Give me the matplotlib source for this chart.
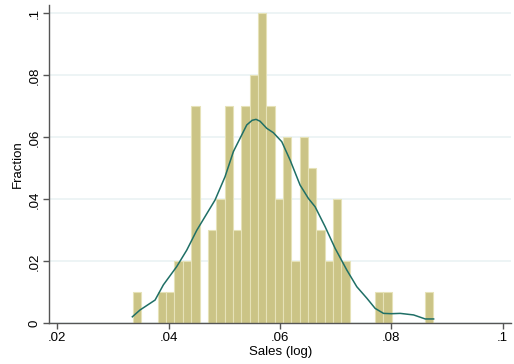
import numpy as np
import matplotlib.pyplot as plt

plt.rcParams['font.family'] = ['Liberation Sans', 'DejaVu Sans']

# histogram: bin edges start / width and fraction per bin
bin_start = 0.03355
bin_width = 0.0015
fractions = [0.01, 0, 0, 0.01, 0.01, 0.02, 0.02, 0.07, 0, 0.03,
             0.04, 0.07, 0.03, 0.07, 0.08, 0.10, 0.07, 0.04, 0.06, 0.02,
             0.06, 0.05, 0.03, 0.02, 0.04, 0.02, 0, 0, 0, 0.01,
             0.01, 0, 0, 0, 0, 0.01]

# kernel density curve (scaled to fraction)
kd_x = [0.03348, 0.03486, 0.03756, 0.03905, 0.04145, 0.04325, 0.04505,
        0.04834, 0.05013, 0.05163, 0.05283, 0.05403, 0.0550, 0.0557,
        0.05642, 0.05763, 0.05881, 0.06032, 0.06181, 0.06361, 0.0651,
        0.06631, 0.0681, 0.0699, 0.072, 0.0738, 0.0756, 0.0771, 0.0786,
        0.0800, 0.0816, 0.0840, 0.0861, 0.0876]
kd_y = [0.0021, 0.0043, 0.0075, 0.0124, 0.0183, 0.0236, 0.0300,
        0.0398, 0.0473, 0.0554, 0.0597, 0.0640, 0.0655, 0.0658,
        0.0652, 0.0629, 0.0615, 0.0586, 0.0527, 0.0446, 0.0403,
        0.0376, 0.0312, 0.0242, 0.0172, 0.0118, 0.0081, 0.0048, 0.0032,
        0.0031, 0.0032, 0.0027, 0.0014, 0.0014]

xticks = [0.02, 0.04, 0.06, 0.08, 0.1]
xtick_labels = ['.02', '.04', '.06', '.08', '.1']
yticks = [0, 0.02, 0.04, 0.06, 0.08, 0.1]
ytick_labels = ['0', '.02', '.04', '.06', '.08', '.1']

fig = plt.figure(figsize=(5.14, 3.64), dpi=100)
ax = fig.add_axes([49.3 / 514, 1 - 323.3 / 364, (511 - 49.3) / 514, (323.3 - 5) / 364])

lefts = bin_start + bin_width * np.arange(len(fractions))
ax.bar(lefts, fractions, width=bin_width, align='edge', color='#CBC486',
       edgecolor='#E6E2B8', linewidth=0.8, zorder=2)
ax.plot(kd_x, kd_y, color='#1F6F66', linewidth=1.1, zorder=3)

ax.set_xlim(0.01856, 0.1015)
ax.set_ylim(0, 0.1027)
ax.set_xticks(xticks)
ax.set_xticklabels(xtick_labels)
ax.set_yticks(yticks)
ax.set_yticklabels(ytick_labels, rotation=90, va='center')
ax.grid(axis='y', color='#EAF2F3', linewidth=1.2, zorder=0)
ax.set_axisbelow(True)

for s in ['top', 'right']:
    ax.spines[s].set_visible(False)
for s in ['left', 'bottom']:
    ax.spines[s].set_color('#555555')
    ax.spines[s].set_linewidth(1.0)
ax.tick_params(axis='both', direction='out', length=4, width=1.0,
               color='#555555', labelsize=9.5, pad=2)

ax.set_xlabel('Sales (log)', fontsize=9.5, labelpad=2)
ax.set_ylabel('Fraction', fontsize=9.5, labelpad=4)

fig.savefig('out.png', dpi=100, facecolor='white')
